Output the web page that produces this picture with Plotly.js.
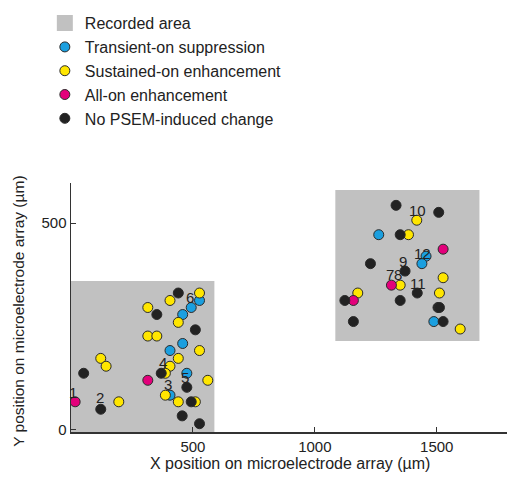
<!DOCTYPE html>
<html>
<head>
<meta charset="utf-8">
<script src="https://cdn.plot.ly/plotly-3.0.1.min.js"></script>
<style>html,body{margin:0;padding:0;background:#fff;}#chart{width:507px;height:482px;}</style>
</head>
<body>
<div id="chart"></div>
<script>
// Recorded areas (µm)
const areaX0 = [0, 1084];
const areaX1 = [588, 1675];
const areaY0 = [-5, 215];
const areaY1 = [360, 580];

// Transient-on suppression
const blueX = [527, 493, 458, 458, 406, 475, 406, 1262, 1456, 1439, 1488];
const blueY = [313, 296, 279, 209, 192, 137, 84, 472, 420, 402, 262];

// Sustained-on enhancement
const yellowX = [122, 144, 196, 315, 315, 352, 406, 527, 440, 527, 440, 406, 387, 561, 387, 440, 510, 1418, 1384, 1350, 1526, 1511, 1176, 1596];
const yellowY = [173, 154, 68, 296, 227, 227, 313, 331, 260, 192, 173, 154, 137, 120, 84, 68, 68, 507, 472, 350, 368, 331, 331, 244];

// All-on enhancement
const magentaX = [17, 315, 1526, 1314, 1158];
const magentaY = [68, 120, 437, 350, 313];

// No PSEM-induced change
const blackX = [52, 122, 352, 370, 440, 510, 475, 493, 456, 527, 1333, 1508, 1350, 1228, 1370, 1420, 1123, 1350, 1505, 1511, 1158, 1526];
const blackY = [137, 50, 279, 137, 331, 242, 103, 68, 34, 15, 543, 526, 472, 402, 384, 331, 313, 313, 296, 296, 262, 262];

// Electrode number labels
const labelText = ["1", "2", "3", "4", "5", "6", "7", "8", "9", "10", "11", "12"];
const labelX = [10, 119, 397, 379, 468, 486, 1310, 1343, 1363, 1422, 1422, 1440];
const labelY = [90, 78, 109, 163, 127, 321, 375, 375, 407, 530, 353, 426];

const xTicks = [500, 1000, 1500];
const yTicks = [0, 500];
const xTitle = "X position on microelectrode array (µm)";
const yTitle = "Y position on microelectrode array (µm)";

const FONT = "Liberation Sans, Arial, sans-serif";
const AREA_COLOR = "#c1c1c1";
const OUTLINE = {color: "#2a2a2a", width: 1};

function pts(name, xs, ys, color) {
  return {
    type: "scatter", mode: "markers", name: name, x: xs, y: ys,
    marker: {size: 10, color: color, line: OUTLINE},
    hoverinfo: "skip"
  };
}

const traces = [
  {type: "scatter", mode: "markers", name: "Recorded area", x: [null], y: [null],
   marker: {symbol: "square", size: 16, color: AREA_COLOR, line: {width: 0}}, hoverinfo: "skip"},
  pts("Transient-on suppression", blueX, blueY, "#1b9fdf"),
  pts("Sustained-on enhancement", yellowX, yellowY, "#ffe600"),
  pts("All-on enhancement", magentaX, magentaY, "#e3007b"),
  pts("No PSEM-induced change", blackX, blackY, "#222222")
];

const shapes = areaX0.map((x0, i) => ({
  type: "rect", xref: "x", yref: "y", layer: "below",
  x0: x0, x1: areaX1[i], y0: areaY0[i], y1: areaY1[i],
  fillcolor: AREA_COLOR, line: {width: 0}
}));

const annotations = labelText.map((t, i) => ({
  text: t, x: labelX[i], y: labelY[i], xref: "x", yref: "y",
  showarrow: false, xanchor: "center", yanchor: "middle",
  font: {family: FONT, size: 15, color: "#222"}
}));
annotations.push({
  text: xTitle, xref: "paper", yref: "paper", x: 0.502, y: -0.1265,
  xanchor: "center", yanchor: "middle", showarrow: false,
  font: {family: FONT, size: 16, color: "#222"}
});
annotations.push({
  text: yTitle, xref: "paper", yref: "paper", x: -0.119, y: 0.483, textangle: -90,
  xanchor: "center", yanchor: "middle", showarrow: false,
  font: {family: FONT, size: 15.5, color: "#222"}
});

const axisCommon = {
  showgrid: false, zeroline: false, showline: true, linecolor: "#333", linewidth: 1.5,
  ticks: "inside", ticklen: 5, tickwidth: 1, tickcolor: "#333",
  tickfont: {family: FONT, size: 15, color: "#222"},
  fixedrange: true
};

const layout = {
  width: 507, height: 482,
  margin: {l: 71, r: 0, t: 183, b: 50},
  paper_bgcolor: "#fff", plot_bgcolor: "#fff",
  font: {family: FONT, color: "#222"},
  showlegend: true,
  legend: {
    x: -0.06, xanchor: "left", y: 1.71, yanchor: "top",
    font: {family: FONT, size: 16, color: "#222"},
    bgcolor: "rgba(0,0,0,0)", borderwidth: 0, itemclick: false, itemdoubleclick: false
  },
  xaxis: Object.assign({}, axisCommon, {
    range: [0, 1788], tickvals: xTicks, ticktext: xTicks.map(String)
  }),
  yaxis: Object.assign({}, axisCommon, {
    range: [-5, 597], tickvals: yTicks, ticktext: yTicks.map(String)
  }),
  shapes: shapes,
  annotations: annotations
};

Plotly.newPlot("chart", traces, layout, {staticPlot: true, displayModeBar: false});
</script>
</body>
</html>
